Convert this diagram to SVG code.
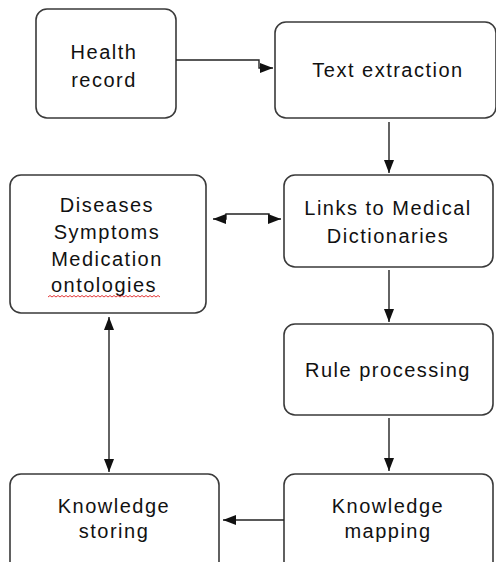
<svg xmlns="http://www.w3.org/2000/svg" width="496" height="562" viewBox="0 0 496 562">
<style>
.box{fill:#fff;stroke:#3a3a3a;stroke-width:1.6}
.t{font-family:"Liberation Sans",Arial,sans-serif;font-size:20px;fill:#111;text-anchor:middle;letter-spacing:1.5px}
.c{fill:none;stroke:#222;stroke-width:1.4}
</style>
<defs>
<marker id="ah" markerUnits="userSpaceOnUse" markerWidth="14" markerHeight="11" refX="13" refY="5" orient="auto-start-reverse">
<path d="M0,0 L13,5 L0,10 z" fill="#111"/>
</marker>
</defs>
<rect width="496" height="562" fill="#fff"/>
<g id="health-record">
<rect class="box" x="36" y="9" width="140" height="109" rx="11"/>
<text class="t" x="104" y="59">Health</text>
<text class="t" x="104" y="87">record</text>
</g>
<g id="text-extraction">
<rect class="box" x="275" y="22" width="221" height="96" rx="11"/>
<text class="t" x="388" y="77">Text extraction</text>
</g>
<g id="ontologies">
<rect class="box" x="10" y="175" width="196" height="138" rx="11"/>
<text class="t" x="107" y="212">Diseases</text>
<text class="t" x="107" y="239">Symptoms</text>
<text class="t" x="107" y="266">Medication</text>
<text class="t" x="104" y="292">ontologies</text>
<path d="M48,297 l2,-1.5 l2,1.5 l2,-1.5 l2,1.5 l2,-1.5 l2,1.5 l2,-1.5 l2,1.5 l2,-1.5 l2,1.5 l2,-1.5 l2,1.5 l2,-1.5 l2,1.5 l2,-1.5 l2,1.5 l2,-1.5 l2,1.5 l2,-1.5 l2,1.5 l2,-1.5 l2,1.5 l2,-1.5 l2,1.5 l2,-1.5 l2,1.5 l2,-1.5 l2,1.5 l2,-1.5 l2,1.5 l2,-1.5 l2,1.5 l2,-1.5 l2,1.5 l2,-1.5 l2,1.5 l2,-1.5 l2,1.5 l2,-1.5 l2,1.5 l2,-1.5 l2,1.5 l2,-1.5 l2,1.5 l2,-1.5 l2,1.5 l2,-1.5 l2,1.5 l2,-1.5 l2,1.5 l2,-1.5 l2,1.5 l2,-1.5 l2,1.5 l2,-1.5 l2,1.5" fill="none" stroke="#e02020" stroke-width="0.9"/>
</g>
<g id="links">
<rect class="box" x="284" y="175" width="209" height="92" rx="11"/>
<text class="t" x="388" y="215">Links to Medical</text>
<text class="t" x="388" y="243">Dictionaries</text>
</g>
<g id="rule-processing">
<rect class="box" x="284" y="324" width="209" height="91" rx="11"/>
<text class="t" x="388" y="377">Rule processing</text>
</g>
<g id="knowledge-mapping">
<rect class="box" x="284" y="474" width="209" height="100" rx="11"/>
<text class="t" x="388" y="513">Knowledge</text>
<text class="t" x="388" y="538">mapping</text>
</g>
<g id="knowledge-storing">
<rect class="box" x="10" y="474" width="209" height="100" rx="11"/>
<text class="t" x="114" y="513">Knowledge</text>
<text class="t" x="114" y="538">storing</text>
</g>
<g id="connectors">
<path class="c" d="M176,60 H259 V68 H273" marker-end="url(#ah)"/>
<path class="c" d="M389,122 V173" marker-end="url(#ah)"/>
<path class="c" d="M213,219 H226 V214 H269 V219 H281" marker-start="url(#ah)" marker-end="url(#ah)"/>
<path class="c" d="M389,270 V322" marker-end="url(#ah)"/>
<path class="c" d="M389,418 V471" marker-end="url(#ah)"/>
<path class="c" d="M284,520 H223" marker-end="url(#ah)"/>
<path class="c" d="M109,317 V472" marker-start="url(#ah)" marker-end="url(#ah)"/>
</g>
</svg>
